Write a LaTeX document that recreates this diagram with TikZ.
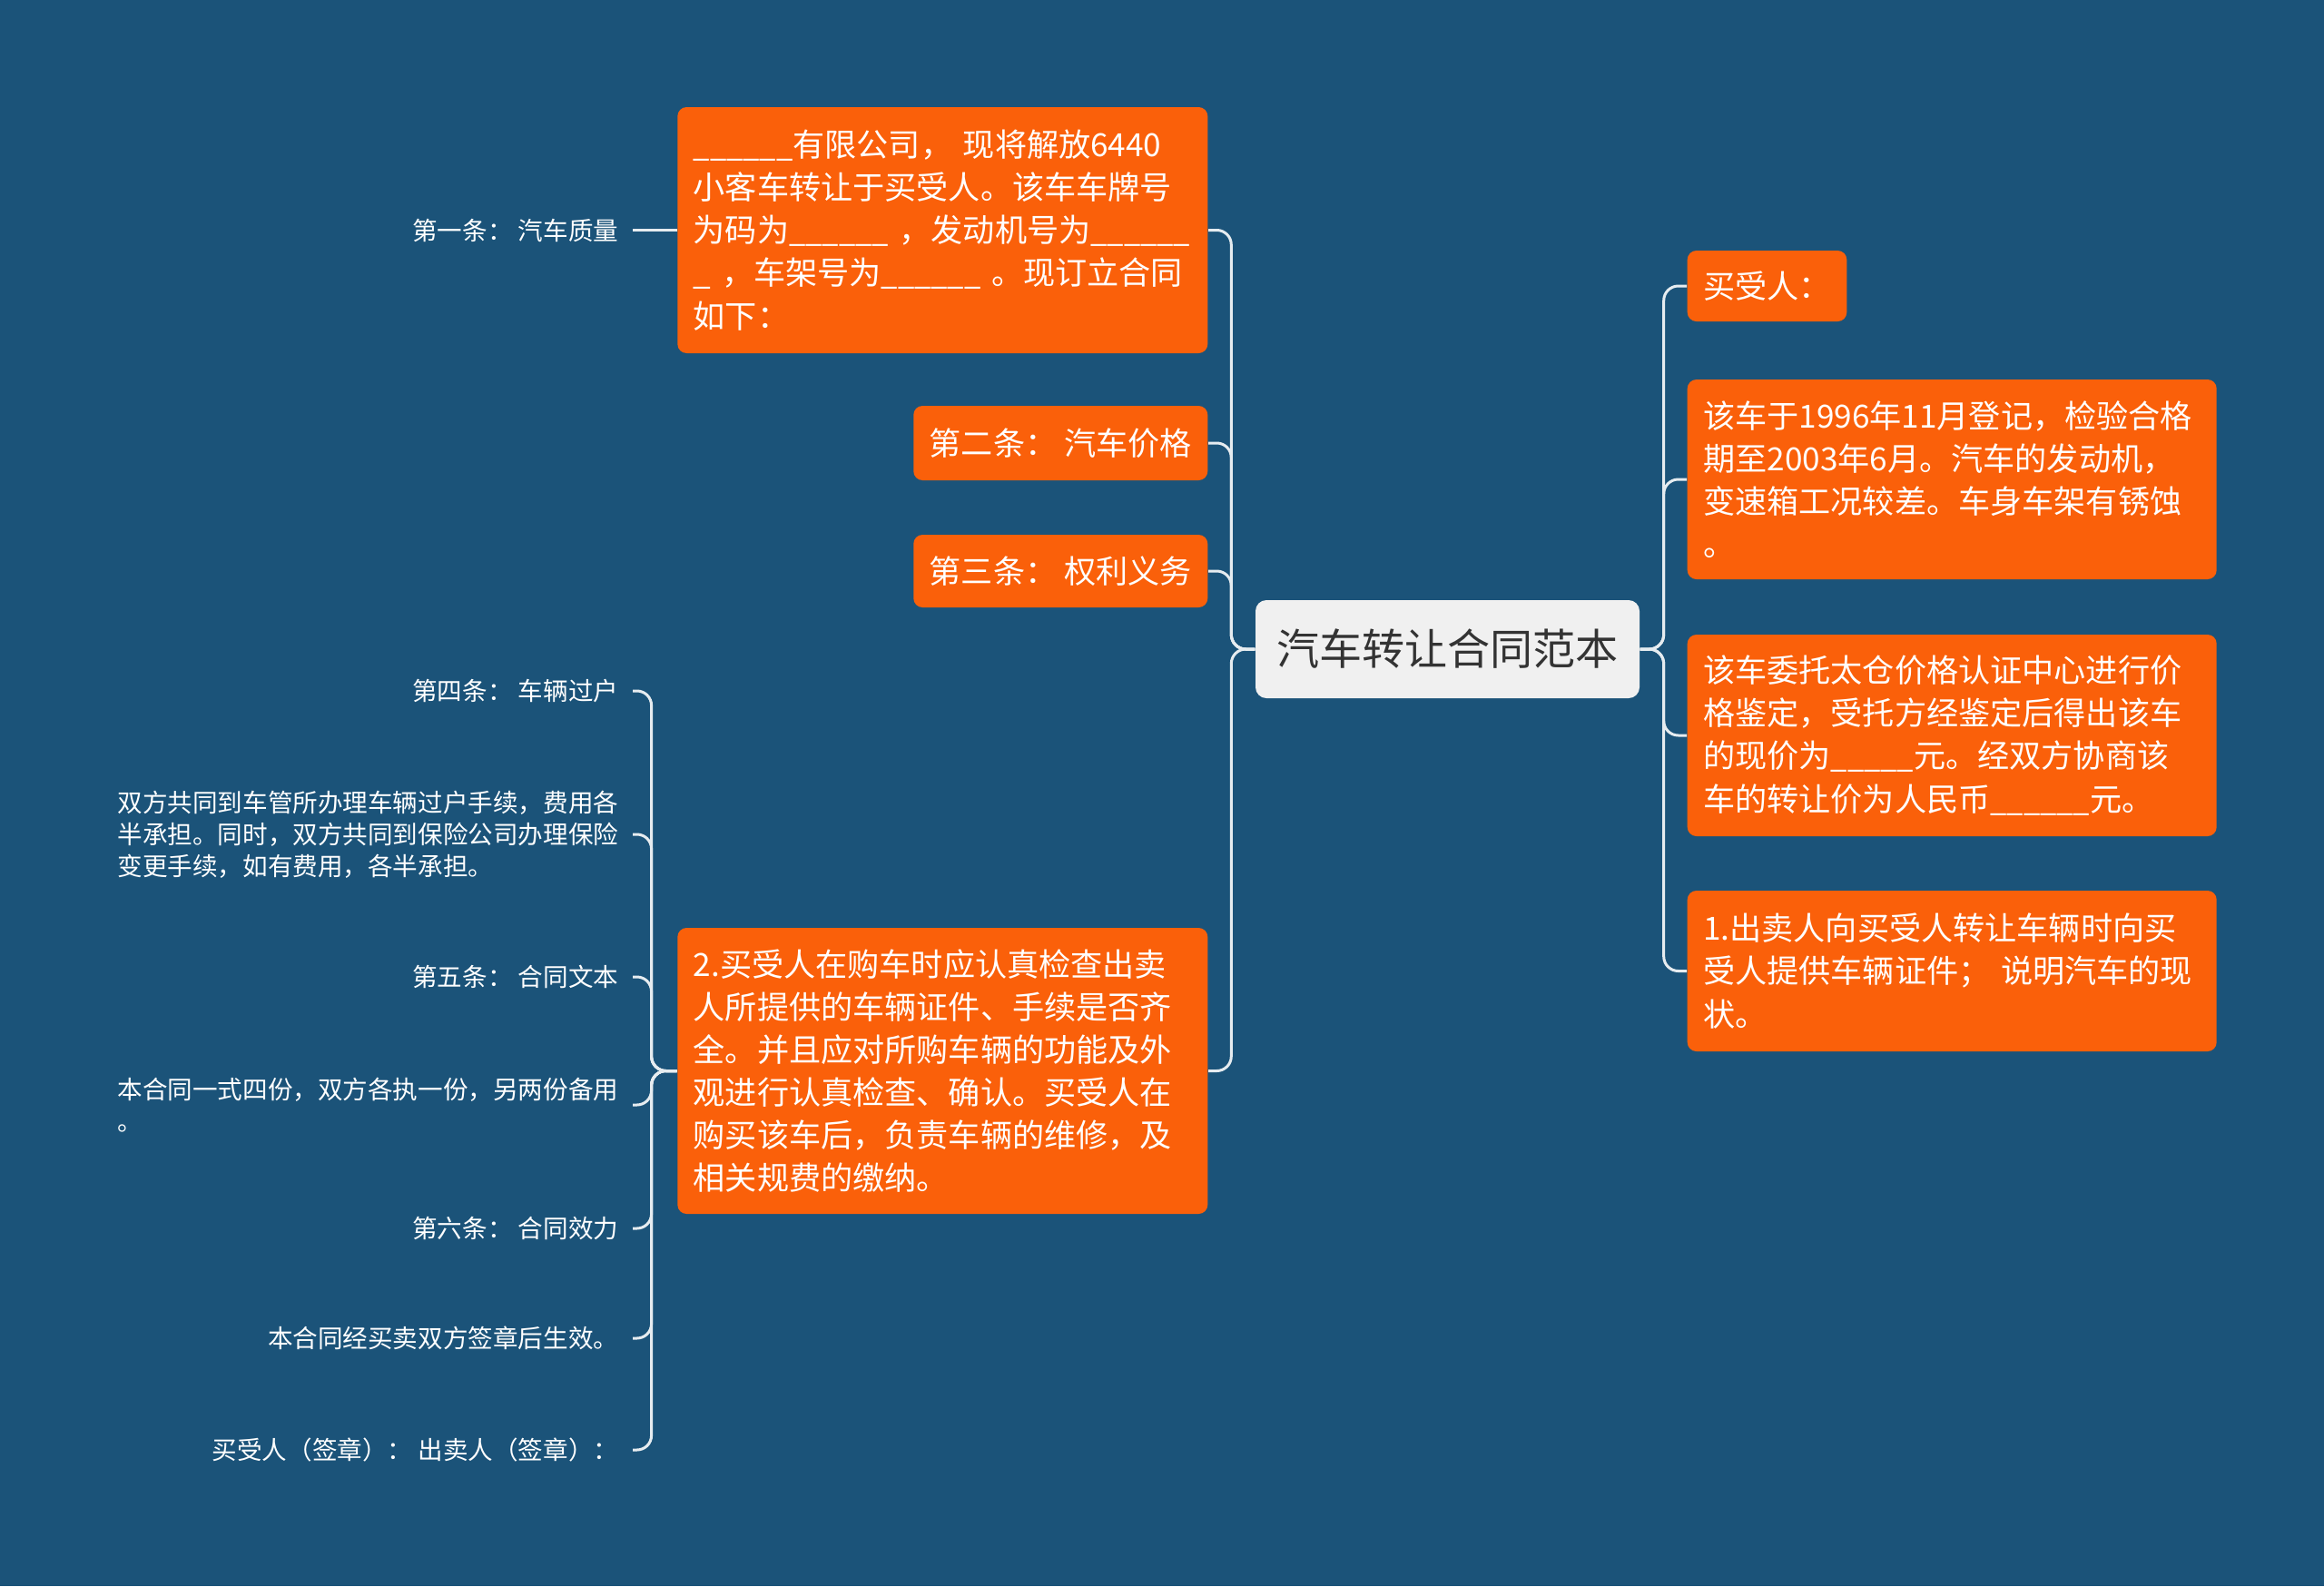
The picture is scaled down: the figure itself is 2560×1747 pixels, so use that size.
\documentclass[tikz,border=0pt]{standalone}
\usepackage{fontspec}
\setmainfont{Noto Sans CJK SC}
\usepackage{xcolor}
\usetikzlibrary{positioning}
\definecolor{bgblue}{HTML}{1B5379}
\definecolor{boxorange}{HTML}{FA600A}
\definecolor{rootgray}{HTML}{F0F0F0}
\definecolor{linegray}{HTML}{E6ECF0}
% narrower blanks to fill in
\newcommand\fillin[1]{\scalebox{0.93}[1]{#1}}

\begin{document}
\begin{tikzpicture}[
    x=0.1mm, y=-0.1mm,
    centre/.style={rectangle, rounded corners=1.2mm, fill=rootgray, text=black!80, minimum width=42.3mm, minimum height=10.8mm, font=\fontsize{13.4pt}{16pt}\selectfont},
    topicbox/.style={rectangle, rounded corners=1mm, fill=boxorange, text=white, inner xsep=1.75mm, inner ysep=1.6mm, align=left, font=\fontsize{10pt}{13.4pt}\selectfont},
    leafnote/.style={inner xsep=1.5mm, inner ysep=1mm, text=white, align=left, font=\fontsize{7.85pt}{10pt}\selectfont},
    link/.style={draw=linegray, line width=0.3mm, rounded corners=1.6mm}
]

% Background
\fill[bgblue] (0,0) rectangle (2560,1747);

% Nodes
\node (contract) [centre] at (1594.5,715) {汽车转让合同范本};

\node (intro) [topicbox, anchor=east, text width=54.9mm, minimum height=27.1mm] at (1331,253.5) {\fillin{\_\_\_\_\_\_}有限公司， 现将解放6440\\小客车转让于买受人。该车车牌号\\\mbox{为码为\fillin{\_\_\_\_\_\_} ，发动机号为\fillin{\_\_\_\_\_\_}}\\\_ ，车架号为\fillin{\_\_\_\_\_\_} 。现订立合同\\如下：};
\node (price) [topicbox, anchor=east, minimum height=8.2mm] at (1331,488) {第二条： 汽车价格};
\node (duty) [topicbox, anchor=east, minimum height=8.0mm] at (1331,629) {第三条： 权利义务};
\node (check) [topicbox, anchor=east, text width=54.9mm, minimum height=31.5mm] at (1331,1179.5) {2.买受人在购车时应认真检查出卖\\人所提供的车辆证件、手续是否齐\\全。并且应对所购车辆的功能及外\\观进行认真检查、确认。买受人在\\购买该车后，负责车辆的维修，及\\相关规费的缴纳。};

\node (buyer) [topicbox, anchor=west, minimum height=7.8mm] at (1858,315) {买受人：};
\node (state) [topicbox, anchor=west, text width=54.8mm, minimum height=22mm] at (1858,528) {该车于1996年11月登记，检验合格\\期至2003年6月。汽车的发动机，\\变速箱工况较差。车身车架有锈蚀\\。};
\node (value) [topicbox, anchor=west, text width=54.8mm, minimum height=22.2mm] at (1858,810) {该车委托太仓价格认证中心进行价\\格鉴定，受托方经鉴定后得出该车\\的现价为\fillin{\_\_\_\_\_}元。经双方协商该\\车的转让价为人民币\fillin{\_\_\_\_\_\_}元。};
\node (papers) [topicbox, anchor=west, text width=54.8mm, minimum height=17.7mm] at (1858,1069.5) {1.出卖人向买受人转让车辆时向买\\受人提供车辆证件； 说明汽车的现\\状。};

\node (art1) [leafnote, anchor=east] at (697,253.5) {第一条： 汽车质量};
\node (art4) [leafnote, anchor=east] at (697,761) {第四条： 车辆过户};
\node (art4text) [leafnote, anchor=east] at (697,919) {双方共同到车管所办理车辆过户手续，费用各\\半承担。同时，双方共同到保险公司办理保险\\变更手续，如有费用，各半承担。};
\node (art5) [leafnote, anchor=east] at (697,1076) {第五条： 合同文本};
\node (art5text) [leafnote, anchor=east] at (697,1217) {本合同一式四份，双方各执一份，另两份备用\\。};
\node (art6) [leafnote, anchor=east] at (697,1353) {第六条： 合同效力};
\node (art6text) [leafnote, anchor=east] at (697,1474) {本合同经买卖双方签章后生效。};
\node (sign) [leafnote, anchor=east] at (697,1597) {买受人（签章）： 出卖人（签章）：};

% Links
\foreach \n in {intro,price,duty,check}
  \draw[link] (contract.west) -- ++(-26,0) |- (\n.east);
\foreach \n in {buyer,state,value,papers}
  \draw[link] (contract.east) -- ++(26,0) |- (\n.west);
\draw[link] (intro.west) -- (art1.east);
\foreach \n in {art4,art4text,art5,art5text,art6,art6text,sign}
  \draw[link] (check.west) -- ++(-28,0) |- (\n.east);

\end{tikzpicture}
\end{document}
